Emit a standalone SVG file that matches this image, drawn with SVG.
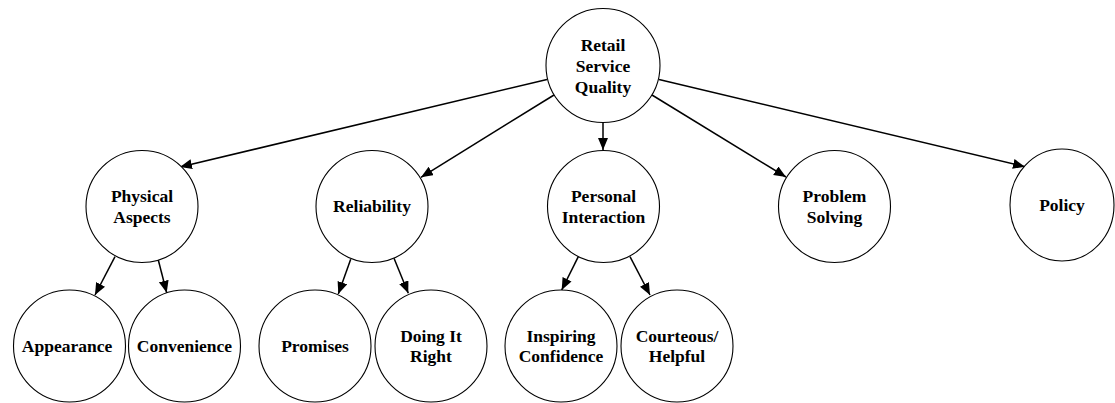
<svg xmlns="http://www.w3.org/2000/svg" width="1115" height="403" viewBox="0 0 1115 403">
<style>
.n{fill:#fff;stroke:#000;stroke-width:1.1}
.t{font-family:"Liberation Serif","Times New Roman",serif;font-weight:bold;font-size:17.5px;text-anchor:middle;fill:#000}
.e{stroke:#000;stroke-width:1.5;fill:none;marker-end:url(#ah)}
</style>
<defs>
<marker id="ah" markerUnits="userSpaceOnUse" markerWidth="13" markerHeight="11" refX="12" refY="5" orient="auto">
<path d="M0,0 L12,5 L0,10 z" fill="#000"/>
</marker>
</defs>
<g id="connectors">
<line class="e" x1="547" y1="79.5" x2="180" y2="167"/>
<line class="e" x1="554" y1="95" x2="421" y2="177.3"/>
<line class="e" x1="603" y1="122.5" x2="603" y2="150"/>
<line class="e" x1="652" y1="95" x2="786" y2="177"/>
<line class="e" x1="659" y1="79.5" x2="1025" y2="166.7"/>
<line class="e" x1="115" y1="256.7" x2="95" y2="295"/>
<line class="e" x1="158.3" y1="260" x2="166.7" y2="292.7"/>
<line class="e" x1="350.7" y1="259.3" x2="338.3" y2="294"/>
<line class="e" x1="394" y1="258.3" x2="408.3" y2="293.3"/>
<line class="e" x1="578.3" y1="256.7" x2="561.7" y2="290"/>
<line class="e" x1="630" y1="256.7" x2="650" y2="295"/>
</g>
<g id="root"><circle class="n" cx="603" cy="65.5" r="57"/><text class="t" x="603" y="50.5">Retail</text><text class="t" x="603" y="71.5">Service</text><text class="t" x="603" y="92.5">Quality</text></g>
<g id="physical"><circle class="n" cx="142" cy="206.5" r="56"/><text class="t" x="142" y="202">Physical</text><text class="t" x="142" y="222.5">Aspects</text></g>
<g id="reliability"><circle class="n" cx="372" cy="206.5" r="56"/><text class="t" x="372" y="212">Reliability</text></g>
<g id="personal"><circle class="n" cx="603.5" cy="206.5" r="56"/><text class="t" x="603.5" y="202">Personal</text><text class="t" x="603.5" y="222.5">Interaction</text></g>
<g id="problem"><circle class="n" cx="834.5" cy="206.5" r="56"/><text class="t" x="834.5" y="202">Problem</text><text class="t" x="834.5" y="222.5">Solving</text></g>
<g id="policy"><ellipse class="n" cx="1062" cy="205" rx="52" ry="56"/><text class="t" x="1062" y="211">Policy</text></g>
<g id="appearance"><circle class="n" cx="69.5" cy="346" r="56"/><text class="t" x="67" y="352">Appearance</text></g>
<g id="convenience"><circle class="n" cx="184.5" cy="346" r="56"/><text class="t" x="184.5" y="352">Convenience</text></g>
<g id="promises"><circle class="n" cx="315" cy="346" r="56"/><text class="t" x="315" y="352">Promises</text></g>
<g id="doing"><circle class="n" cx="431" cy="346" r="56"/><text class="t" x="431" y="341.5">Doing It</text><text class="t" x="431" y="362">Right</text></g>
<g id="inspiring"><circle class="n" cx="561" cy="346" r="56"/><text class="t" x="561" y="341.5">Inspiring</text><text class="t" x="561" y="362">Confidence</text></g>
<g id="courteous"><circle class="n" cx="677" cy="346" r="56"/><text class="t" x="677" y="341.5">Courteous/</text><text class="t" x="677" y="362">Helpful</text></g>
</svg>
